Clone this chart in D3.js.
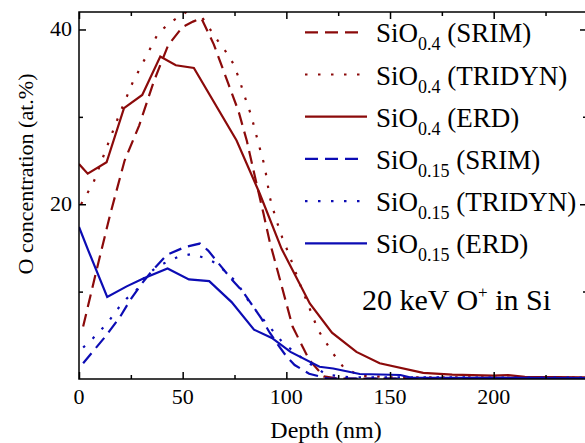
<!DOCTYPE html>
<html>
<head>
<meta charset="utf-8">
<script src="https://cdn.jsdelivr.net/npm/d3@7"></script>
<style>
  body { margin: 0; background: #fff; }
  .axis path, .axis line { stroke: #000; stroke-width: 1.5; }
</style>
</head>
<body>
<svg id="chart" width="585" height="443"></svg>
<script>
// depth (nm) and O concentration (at.%)
const redSrimX = [2, 8, 15, 22, 29, 36, 43, 50, 55, 59, 65, 72, 77, 81, 85, 89, 92, 97, 103, 111, 118, 125, 245];
const redSrimY = [6, 12, 18.8, 25, 29, 34, 38.2, 40.3, 40.9, 41.3, 38.3, 33.8, 30.6, 27.2, 23, 18.9, 15.7, 11.3, 6.0, 2.2, 0.3, 0.05, 0.02];

const redTriX = [1, 7, 14, 19, 26, 32.6, 38, 43, 49, 56, 63, 67, 71, 74.4, 77, 80.8, 83, 86.4, 89.6, 92, 95, 98, 101.7, 106.5, 109.7, 115.3, 122.6, 127.4, 135, 150, 245];
const redTriY = [20, 22.5, 26.9, 30, 34, 37, 39.5, 40.6, 41.6, 42.6, 40.1, 38.7, 37.4, 36.1, 34.5, 31.7, 30.2, 27.1, 24.3, 20.8, 18.3, 16.2, 14, 10.9, 9, 5.6, 2.9, 1.4, 0.4, 0.2, 0.15];

const redErdX = [0, 4.2, 13.3, 21.7, 30.5, 39.2, 46.7, 55.4, 76, 87.2, 97.7, 111.3, 122, 133.8, 145, 166, 180, 199.5, 207, 215, 245];
const redErdY = [24.6, 23.5, 24.8, 31.0, 32.5, 36.9, 35.9, 35.6, 27.3, 21.2, 14.9, 8.65, 5.3, 3.1, 1.8, 0.7, 0.5, 0.38, 0.45, 0.25, 0.2];

const blueSrimX = [2, 12.5, 19.8, 24.6, 30.2, 35, 42.3, 51.1, 58.3, 62.3, 68.8, 74, 79, 84, 88, 92, 96, 100, 104, 111, 120, 245];
const blueSrimY = [1.8, 4.8, 7.1, 9, 10.9, 12.3, 14.2, 15.1, 15.5, 14.7, 12.8, 11.3, 10, 8.3, 6.9, 5.3, 3.9, 2.6, 1.6, 0.6, 0.05, 0.02];

const blueTriX = [2, 5.3, 14.1, 18.2, 23, 27.8, 31.8, 36.6, 42.3, 47.9, 54.3, 61.5, 66.4, 76, 82.4, 90, 98.5, 109.7, 119.4, 130, 245];
const blueTriY = [3.6, 4.3, 6.5, 7.9, 9.2, 10.2, 11.7, 12.65, 13.4, 14, 14.3, 13.8, 13.2, 11.1, 8.7, 6.5, 4.1, 2.0, 0.5, 0.2, 0.15];

const blueErdX = [0, 4.5, 13.6, 23, 31, 42.7, 53, 62.8, 73.6, 84.4, 93, 102, 116, 122.6, 135.4, 155, 160, 245];
const blueErdY = [17.4, 14.7, 9.4, 10.6, 11.5, 12.65, 11.4, 11.2, 8.8, 5.65, 4.7, 3.1, 1.4, 1.2, 0.57, 0.46, 0.15, 0.1];

const xMajor = [0, 50, 100, 150, 200];
const xMinor = [25, 75, 125, 175, 225];
const yMajor = [20, 40];
const yMinor = [10, 30];

const red = '#8b0a0a';
const blue = '#0c0cb4';
const dashed = '13,7';
const dotted = '2.5,10.5';
const serif = 'Liberation Serif, DejaVu Serif, Times New Roman, serif';

const series = [
  { xs: redSrimX, ys: redSrimY, color: red, dash: dashed, sub: '0.4', name: 'SRIM' },
  { xs: redTriX, ys: redTriY, color: red, dash: dotted, sub: '0.4', name: 'TRIDYN' },
  { xs: redErdX, ys: redErdY, color: red, dash: null, sub: '0.4', name: 'ERD' },
  { xs: blueSrimX, ys: blueSrimY, color: blue, dash: dashed, sub: '0.15', name: 'SRIM' },
  { xs: blueTriX, ys: blueTriY, color: blue, dash: dotted, sub: '0.15', name: 'TRIDYN' },
  { xs: blueErdX, ys: blueErdY, color: blue, dash: null, sub: '0.15', name: 'ERD' }
];

const margin = { left: 79, top: 12, right: 587, bottom: 379 };
const svg = d3.select('#chart').attr('font-family', serif);

const x = d3.scaleLinear().domain([0, 245]).range([margin.left, margin.right]);
const y = d3.scaleLinear().domain([0, 42]).range([margin.bottom, margin.top]);

svg.append('clipPath').attr('id', 'plot-clip')
  .append('rect')
  .attr('x', margin.left).attr('y', margin.top)
  .attr('width', margin.right - margin.left).attr('height', margin.bottom - margin.top);

// curves
const line = d3.line().x(d => x(d[0])).y(d => y(d[1]));
const curves = svg.append('g').attr('clip-path', 'url(#plot-clip)');
series.forEach(s => {
  curves.append('path')
    .datum(s.xs.map((v, i) => [v, s.ys[i]]))
    .attr('d', line)
    .attr('fill', 'none')
    .attr('stroke', s.color)
    .attr('stroke-width', 2.2)
    .attr('stroke-dasharray', s.dash);
});

// frame
svg.append('rect')
  .attr('x', margin.left).attr('y', margin.top)
  .attr('width', margin.right - margin.left).attr('height', margin.bottom - margin.top)
  .attr('fill', 'none').attr('stroke', '#000').attr('stroke-width', 1.5);

// ticks, all pointing inward
function ticks(axis, vals, size, pos) {
  svg.append('g').attr('class', 'axis')
    .attr('transform', pos)
    .call(axis.tickValues(vals).tickSize(size).tickFormat(''))
    .call(g => g.select('.domain').remove());
}
ticks(d3.axisBottom(x), xMajor, -7, `translate(0,${margin.bottom})`);
ticks(d3.axisBottom(x), xMinor, -4, `translate(0,${margin.bottom})`);
ticks(d3.axisTop(x), xMajor, -7, `translate(0,${margin.top})`);
ticks(d3.axisTop(x), xMinor, -4, `translate(0,${margin.top})`);
ticks(d3.axisLeft(y), yMajor, -7, `translate(${margin.left},0)`);
ticks(d3.axisLeft(y), yMinor, -4, `translate(${margin.left},0)`);
ticks(d3.axisRight(y), yMajor, -7, `translate(${margin.right},0)`);
ticks(d3.axisRight(y), yMinor, -4, `translate(${margin.right},0)`);

// tick labels
svg.append('g').selectAll('text')
  .data(xMajor).enter().append('text')
  .attr('x', d => x(d)).attr('y', 404)
  .attr('text-anchor', 'middle')
  .attr('font-size', 22)
  .text(d => d);

svg.append('g').selectAll('text')
  .data(yMajor).enter().append('text')
  .attr('x', 72).attr('y', d => y(d) + 7)
  .attr('text-anchor', 'end')
  .attr('font-size', 22)
  .text(d => d);

svg.append('text')
  .attr('x', 326).attr('y', 438)
  .attr('text-anchor', 'middle')
  .attr('font-size', 24)
  .text('Depth (nm)');

svg.append('text')
  .attr('transform', 'translate(33,174) rotate(-90)')
  .attr('text-anchor', 'middle')
  .attr('font-size', 22)
  .text('O concentration (at.%)');

// legend
const legend = svg.append('g');
series.forEach((s, i) => {
  const cy = 32.3 + i * 42.2;
  legend.append('line')
    .attr('x1', 305).attr('x2', s.dash ? 362 : 367)
    .attr('y1', cy).attr('y2', cy)
    .attr('stroke', s.color)
    .attr('stroke-width', 2.2)
    .attr('stroke-dasharray', s.dash);
  const t = legend.append('text')
    .attr('x', 376).attr('y', cy + 10)
    .attr('font-size', 27);
  t.append('tspan').text('SiO');
  t.append('tspan').attr('font-size', 18).attr('dy', 8).text(s.sub);
  t.append('tspan').attr('dy', -8).text(' (' + s.name + ')');
});

const note = svg.append('text')
  .attr('x', 362).attr('y', 310)
  .attr('font-size', 30);
note.append('tspan').text('20 keV O');
note.append('tspan').attr('font-size', 17).attr('dy', -12).text('+');
note.append('tspan').attr('dy', 12).text(' in Si');
</script>
</body>
</html>
